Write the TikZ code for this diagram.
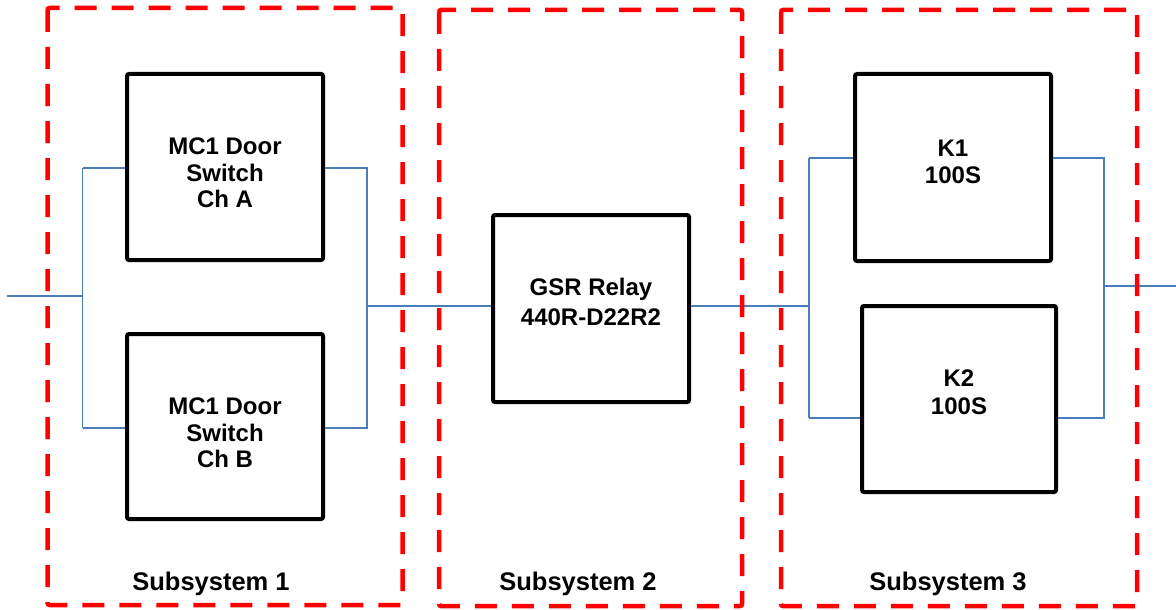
\documentclass[tikz,border=0pt]{standalone}
\usepackage{fontspec}
\setmainfont{Liberation Sans}
\definecolor{wireblue}{HTML}{4A7EBB}
\definecolor{subred}{HTML}{FF0000}
\tikzset{
  subsys/.style={draw=subred, line width=4.5pt, dash pattern=on 22pt off 15pt, rounded corners=2pt},
  blockbox/.style={draw=black, line width=4pt, rounded corners=2pt, rectangle, inner sep=0pt},
  wire/.style={draw=wireblue, line width=1.5pt},
  boxtext/.style={font=\fontsize{24}{26.5}\selectfont\bfseries, align=center, anchor=base, inner sep=0pt},
  subtext/.style={font=\fontsize{25.5}{28}\selectfont\bfseries, anchor=base, inner sep=0pt}
}
\begin{document}
\begin{tikzpicture}[x=1pt,y=-1pt]
\useasboundingbox (0,0) rectangle (1176,610);
% wire junctions
\coordinate (in) at (7,296);
\coordinate (j1) at (82.5,296);
\coordinate (j1t) at (82.5,168);
\coordinate (j1b) at (82.5,428);
\coordinate (j2t) at (367,168);
\coordinate (j2b) at (367,428);
\coordinate (j2) at (367,306);
\coordinate (j3) at (809,306);
\coordinate (j3t) at (809,158);
\coordinate (j3b) at (809,418);
\coordinate (j4t) at (1104,158);
\coordinate (j4b) at (1104,418);
\coordinate (j4) at (1104,286);
\coordinate (out) at (1176,286);
% boxes
\node[blockbox, minimum width=196pt, minimum height=186pt] (A) at (225,167) {};
\node[blockbox, minimum width=196pt, minimum height=185pt] (B) at (225,426.5) {};
\node[blockbox, minimum width=196pt, minimum height=187pt] (G) at (591,308.5) {};
\node[blockbox, minimum width=196pt, minimum height=187pt] (K1) at (953,167.5) {};
\node[blockbox, minimum width=194pt, minimum height=186pt] (K2) at (959,399) {};
% wires
\draw[wire] (in) -- (j1);
\draw[wire] (j1t) -- (j1b);
\draw[wire] (j1t) -- (j1t -| A.west);
\draw[wire] (j1b) -- (j1b -| B.west);
\draw[wire] (A.east |- j2t) -- (j2t) -- (j2b) -- (B.east |- j2b);
\draw[wire] (j2) -- (j2 -| G.west);
\draw[wire] (G.east |- j3) -- (j3);
\draw[wire] (j3t) -- (j3b);
\draw[wire] (j3t) -- (j3t -| K1.west);
\draw[wire] (j3b) -- (j3b -| K2.west);
\draw[wire] (K1.east |- j4t) -- (j4t) -- (j4b) -- (K2.east |- j4b);
\draw[wire] (j4) -- (out);
% subsystem frames
\draw[subsys] (47.5,8) rectangle (402.5,605);
\draw[subsys] (439,10) rectangle (742,606);
\draw[subsys] (781,10) rectangle (1137,606);
% texts (anchor = baseline of last line)
\node[boxtext] (tA) at (225,207.5) {MC1 Door\\Switch\\Ch A};
\node[boxtext] (tB) at (225,467.5) {MC1 Door\\Switch\\Ch B};
\node[boxtext, font=\fontsize{24}{29.3}\selectfont\bfseries] (tG) at (591,325) {GSR Relay\\440R-D22R2};
\node[boxtext] (tK1) at (953,183) {K1\\100S};
\node[boxtext, font=\fontsize{24}{28}\selectfont\bfseries] (tK2) at (959,414) {K2\\100S};
\node[subtext] (s1) at (211,590) {Subsystem 1};
\node[subtext] (s2) at (578,590) {Subsystem 2};
\node[subtext] (s3) at (948,590) {Subsystem 3};
\end{tikzpicture}
\end{document}
